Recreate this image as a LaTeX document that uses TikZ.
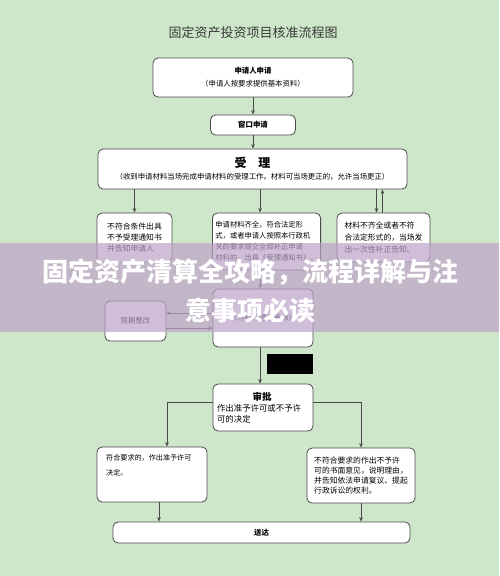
\documentclass[tikz,border=0pt]{standalone}
\usepackage{fontspec}
\setmainfont{Noto Sans CJK SC}
\usetikzlibrary{positioning,arrows.meta,calc}
\definecolor{paleGreen}{HTML}{CEE6CA}
\definecolor{boxLine}{HTML}{4A4A4A}
\definecolor{titleGrey}{HTML}{3A3A3A}
\definecolor{bannerPurple}{HTML}{BDA3C8}

\begin{document}
\begin{tikzpicture}[x=1pt, y=-1pt,
    flowBox/.style={draw=boxLine, fill=white, rounded corners=5pt, line width=0.8pt, align=left, inner sep=3pt, font=\fontsize{7.4}{11}\selectfont},
    arrowStyle/.style={-{Stealth[length=4.5pt,width=3.6pt]}, line width=0.7pt, draw=boxLine}
]
    \fill[paleGreen] (0,0) rectangle (499,576);
    \useasboundingbox (0,0) rectangle (499,576);

    \node[font=\fontsize{13}{15}\selectfont, text=titleGrey] (chartTitle) at (253,33) {固定资产投资项目核准流程图};

    \node[flowBox, align=center, minimum width=200pt, minimum height=39pt] (apply) at (253,77.5) {
        \textbf{申请人申请}\\[2pt]
        （申请人按要求提供基本资料）
    };
    \node[flowBox, align=center, minimum width=85pt, minimum height=20pt] (window) at (253,125) {\textbf{窗口申请}};
    \node[flowBox, align=center, minimum width=309pt, minimum height=40pt] (accept) at (252.5,169) {
        {\fontsize{12}{14}\selectfont\textbf{受\quad 理}}\\[1pt]
        （收到申请材料当场完成申请材料的受理工作。材料可当场更正的，允许当场更正）
    };

    \node[flowBox, minimum width=75pt, minimum height=49pt, font=\fontsize{7.8}{11}\selectfont] (reject) at (134.5,237.5) {
        不符合条件出具\\不予受理通知书\\并告知申请人
    };
    \node[flowBox, minimum width=107pt, minimum height=57pt, font=\fontsize{7.3}{11}\selectfont] (complete) at (266.5,241.5) {
        申请材料齐全，符合法定形\\式，或者申请人按照本行政机\\关的要求提交全部补正申请\\材料的，出具《受理通知书》。
    };
    \node[flowBox, minimum width=93pt, minimum height=49pt, font=\fontsize{7.8}{12}\selectfont] (incomplete) at (383.5,237.5) {
        材料不齐全或者不符\\合法定形式的，当场发\\出一次性补正告知。
    };

    \node[flowBox, align=center, minimum width=100pt, minimum height=58pt] (review) at (263,318) {（对材料进行审核）};
    \node[flowBox, align=center, minimum width=61pt, minimum height=40pt] (rectify) at (135.5,321) {限期整改};
    \node[fill=black, minimum width=46pt, minimum height=20pt, inner sep=0pt] (maskBar) at (290,364) {};

    \node[flowBox, minimum width=100pt, minimum height=47pt, font=\fontsize{8.4}{11}\selectfont] (approve) at (263,407.5) {
        \parbox{90pt}{\centering\textbf{\fontsize{9.5}{12}\selectfont 审批}\par
        \raggedright 作出准予许可或不予许\\可的决定}
    };
    \node[flowBox, minimum width=110pt, minimum height=55pt, font=\fontsize{7.1}{15}\selectfont] (granted) at (152,474.5) {
        \parbox[c][43pt][t]{90pt}{\vspace{2pt}符合要求的，作出准予许可\\决定。}
    };
    \node[flowBox, minimum width=108pt, minimum height=55pt, font=\fontsize{7.8}{10}\selectfont] (denied) at (361,475.5) {
        不符合要求的作出不予许\\可的书面意见，说明理由，\\并告知依法申请复议、提起\\行政诉讼的权利。
    };
    \node[flowBox, align=center, minimum width=297pt, minimum height=21pt] (deliver) at (261.5,532.5) {\textbf{送达}};

    \coordinate (spine) at (260,0);
    \coordinate (grantedOut) at ($(granted.south)+(7,0)$);

    \draw[arrowStyle] (apply) -- (window);
    \draw[arrowStyle] (window.south) -- (window.south |- accept.north);
    \draw[arrowStyle] (accept.south -| reject.north) -- (reject.north);
    \draw[arrowStyle] (accept.south -| spine) -- (complete.north -| spine);
    \draw[arrowStyle] ($(incomplete.north |- accept.south)+(-7,0)$) -- ($(incomplete.north)+(-7,0)$);
    \draw[arrowStyle] ($(incomplete.north)+(-1,0)$) -- ($(incomplete.north |- accept.south)+(-1,0)$);
    \draw[arrowStyle] (complete.south -| spine) -- (review.north -| spine);
    \draw[arrowStyle] ($(review.west)+(0,-5)$) -- ($(rectify.east)+(0,-8)$);
    \draw[arrowStyle] ($(rectify.east)+(0,7)$) -- ($(review.west)+(0,10)$);
    \draw[arrowStyle] (review.south -| spine) -- (approve.north -| spine);
    \draw[arrowStyle] ($(approve.west)+(0,-5.5)$) -| ($(granted.north)+(15,0)$);
    \draw[arrowStyle] ($(approve.east)+(0,-5.5)$) -| (denied.north);
    \draw[arrowStyle] (grantedOut) -- (grantedOut |- deliver.north);
    \draw[arrowStyle] (denied.south) -- (denied.south |- deliver.north);

    % banner over the chart
    \fill[bannerPurple, fill opacity=0.7] (0,243) rectangle (499,332);
    \node[text=white, font=\fontsize{26}{39}\selectfont\bfseries, align=center] (banner) at (250,291.5) {
        固定资产清算全攻略，流程详解与注\\意事项必读
    };
\end{tikzpicture}
\end{document}
